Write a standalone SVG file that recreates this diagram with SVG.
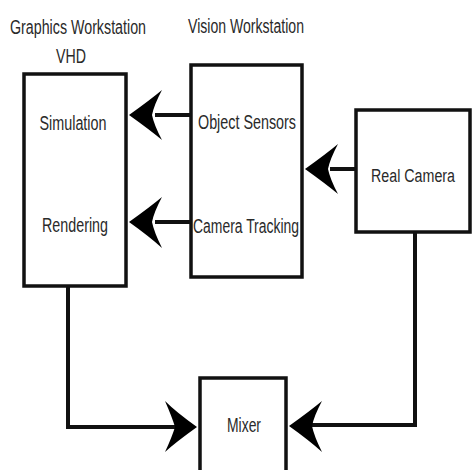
<svg xmlns="http://www.w3.org/2000/svg" width="472" height="470" viewBox="0 0 472 470">
<style>
.box{fill:#fff;stroke:#111;stroke-width:3.5}
.t{font-family:"Liberation Sans",Arial,sans-serif;font-size:20px;fill:#2a2a2a;text-anchor:middle}
.ln{fill:none;stroke:#111;stroke-width:4}
.ah{fill:#000}
</style>
<rect width="472" height="470" fill="#fff"/>
<text class="t" x="78" y="34" textLength="136" lengthAdjust="spacingAndGlyphs">Graphics Workstation</text>
<text class="t" x="71" y="63" textLength="30" lengthAdjust="spacingAndGlyphs">VHD</text>
<text class="t" x="246" y="33" textLength="116" lengthAdjust="spacingAndGlyphs">Vision Workstation</text>
<g id="graphics">
<rect class="box" x="24" y="74" width="102" height="212"/>
<text class="t" x="73" y="130" textLength="67" lengthAdjust="spacingAndGlyphs">Simulation</text>
<text class="t" x="75" y="232" textLength="66" lengthAdjust="spacingAndGlyphs">Rendering</text>
</g>
<g id="vision">
<rect class="box" x="191" y="65" width="111" height="212"/>
<text class="t" x="247" y="129" textLength="98" lengthAdjust="spacingAndGlyphs">Object Sensors</text>
<text class="t" x="246" y="233" textLength="106" lengthAdjust="spacingAndGlyphs">Camera Tracking</text>
</g>
<g id="realcamera">
<rect class="box" x="356" y="110" width="114" height="122"/>
<text class="t" x="413" y="182" style="font-size:18px" textLength="84" lengthAdjust="spacingAndGlyphs">Real Camera</text>
</g>
<g id="mixer">
<rect class="box" x="200" y="378" width="86" height="100"/>
<text class="t" x="244" y="432" textLength="34" lengthAdjust="spacingAndGlyphs">Mixer</text>
</g>
<g id="connectors">
<path class="ln" d="M191 115H155"/>
<path class="ah" d="M129 115Q150 100 162 90Q154 105 152 115Q154 125 162 140Q150 130 129 115Z"/>
<path class="ln" d="M191 222H155"/>
<path class="ah" d="M129 222Q150 207 162 197Q154 212 152 222Q154 232 162 248Q150 237 129 222Z"/>
<path class="ln" d="M356 169H330"/>
<path class="ah" d="M305 169Q326 154 338 144Q330 159 328 169Q330 179 338 194Q326 184 305 169Z"/>
<path class="ln" d="M68 286V427H175"/>
<path class="ah" d="M197 427Q176 412 165 401Q172 417 175 427Q172 437 165 452Q176 442 197 427Z"/>
<path class="ln" d="M415 232V425H312"/>
<path class="ah" d="M289 426Q310 411 322 401Q314 416 312 426Q314 436 322 452Q310 441 289 426Z"/>
</g>
</svg>
